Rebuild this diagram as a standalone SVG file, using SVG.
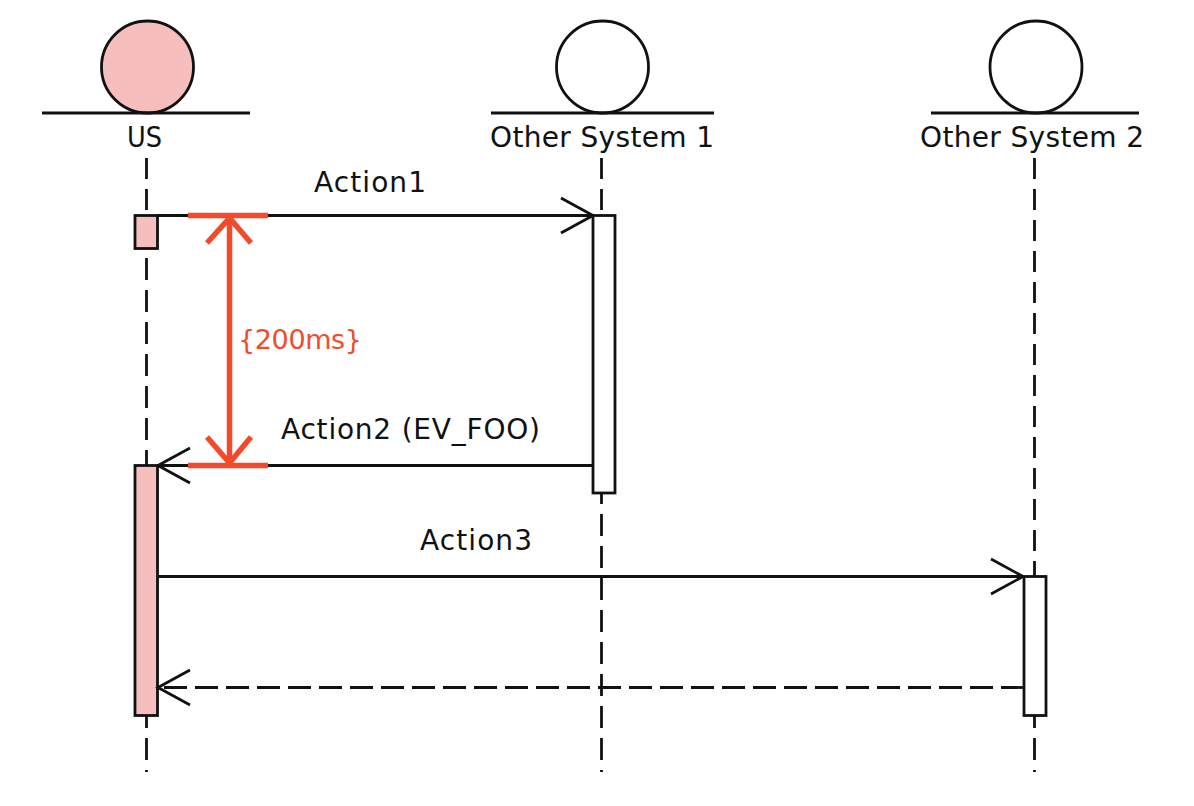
<svg xmlns="http://www.w3.org/2000/svg" width="1194" height="806" viewBox="0 0 1194 806">
<style>
.ln{stroke:#111;stroke-width:2.800;fill:none}
.ll{stroke:#111;stroke-width:2.800;fill:none;stroke-dasharray:21 10}
.lb{stroke:#111;stroke-width:2.800;fill:none;stroke-dasharray:22 10;stroke-dashoffset:20}
.dash{stroke:#111;stroke-width:2.800;fill:none;stroke-dasharray:23 8}
.hd{stroke:#111;stroke-width:2.800;fill:none}
.pink{fill:#f6bfbd;stroke:#111;stroke-width:2.800}
.wht{fill:#fff;stroke:#111;stroke-width:2.800}
.red{stroke:#f24a2b;stroke-width:5.500;fill:none}
text{font-family:"DejaVu Sans","Liberation Sans",sans-serif;font-size:28px;fill:#111}
</style>
<rect width="1194" height="806" fill="#fff"/>
<g id="lifelines">
<path class="ll" d="M146.500 158V215"/>
<path class="lb" d="M146.500 772V249"/>
<path class="ll" d="M601.500 158V215"/>
<path class="lb" d="M601.500 772V493"/>
<path class="ll" d="M1034.500 158V576"/>
<path class="lb" d="M1034.500 772V716"/>
</g>
<g id="node-us">
<circle class="pink" cx="147.500" cy="67" r="46"/>
<path class="ln" d="M42 113H250"/>
<text x="127" y="147" textLength="35" lengthAdjust="spacingAndGlyphs">US</text>
<rect class="pink" x="135" y="215.500" width="22.500" height="33"/>
<rect class="pink" x="135" y="465.500" width="22.500" height="250"/>
</g>
<g id="node-system1">
<circle class="wht" cx="602.500" cy="67" r="46"/>
<path class="ln" d="M491 113H714"/>
<text x="490" y="147" textLength="224">Other System 1</text>
<rect class="wht" x="593" y="215.500" width="22" height="277.500"/>
</g>
<g id="node-system2">
<circle class="wht" cx="1036" cy="67" r="46"/>
<path class="ln" d="M931 113H1139"/>
<text x="920" y="147" textLength="224">Other System 2</text>
<rect class="wht" x="1024" y="576.500" width="22" height="139"/>
</g>
<g id="connectors">
<path class="ln" d="M157 215.500H593"/>
<path class="hd" d="M561 198L593 215.500L561 233"/>
<path class="ln" d="M593 465.500H157"/>
<path class="hd" d="M190 448L158 465.500L190 483"/>
<path class="ln" d="M157 576.500H1024"/>
<path class="hd" d="M991 559L1023 576.500L991 594"/>
<path class="dash" d="M1024 687.500H157"/>
<path class="hd" d="M190 670L158 687.500L190 705"/>
</g>
<g id="constraint">
<path class="red" d="M188 215.500H268M188 465.500H268M229.500 218V463"/>
<path class="red" d="M207 243L229.500 218L251 243M207 437L229.500 463L251 437"/>
<text x="238" y="349" textLength="124" style="fill:#f24a2b;font-size:27px">{200ms}</text>
</g>
<g id="labels">
<text x="314" y="192" textLength="112">Action1</text>
<text x="281" y="439" textLength="259">Action2 (EV_FOO)</text>
<text x="420" y="550" textLength="112">Action3</text>
</g>
</svg>
